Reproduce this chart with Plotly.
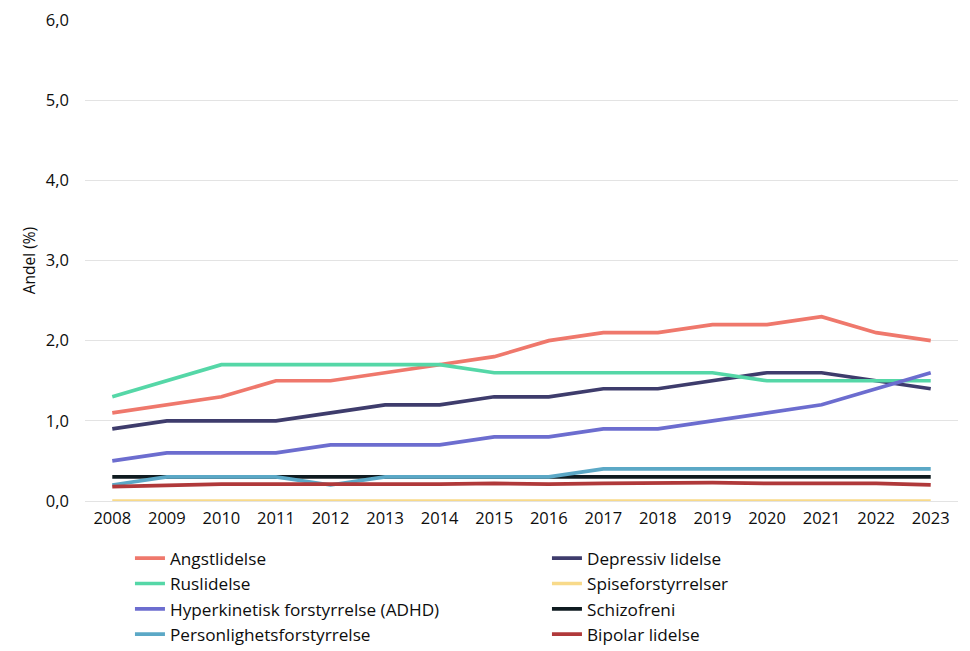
import plotly.graph_objects as go

years = [str(y) for y in range(2008, 2024)]

angst = [1.1, 1.2, 1.3, 1.5, 1.5, 1.6, 1.7, 1.8, 2.0, 2.1, 2.1, 2.2, 2.2, 2.3, 2.1, 2.0]
depressiv = [0.9, 1.0, 1.0, 1.0, 1.1, 1.2, 1.2, 1.3, 1.3, 1.4, 1.4, 1.5, 1.6, 1.6, 1.5, 1.4]
rus = [1.3, 1.5, 1.7, 1.7, 1.7, 1.7, 1.7, 1.6, 1.6, 1.6, 1.6, 1.6, 1.5, 1.5, 1.5, 1.5]
spise = [0.0] * 16
adhd = [0.5, 0.6, 0.6, 0.6, 0.7, 0.7, 0.7, 0.8, 0.8, 0.9, 0.9, 1.0, 1.1, 1.2, 1.4, 1.6]
schizo = [0.3] * 16
person = [0.2, 0.3, 0.3, 0.3, 0.2, 0.3, 0.3, 0.3, 0.3, 0.4, 0.4, 0.4, 0.4, 0.4, 0.4, 0.4]
bipolar = [0.18, 0.2, 0.21, 0.21, 0.21, 0.2, 0.21, 0.22, 0.21, 0.22, 0.23, 0.23, 0.22, 0.22, 0.22, 0.2]

series = [
    ("Angstlidelse", angst, "#EF786C"),
    ("Depressiv lidelse", depressiv, "#3E3C6C"),
    ("Ruslidelse", rus, "#55D7A7"),
    ("Spiseforstyrrelser", spise, "#F8DA8A"),
    ("Hyperkinetisk forstyrrelse (ADHD)", adhd, "#6C6DCF"),
    ("Schizofreni", schizo, "#0F1B20"),
    ("Personlighetsforstyrrelse", person, "#5BA8C6"),
    ("Bipolar lidelse", bipolar, "#B0393A"),
]

fig = go.Figure()
for name, vals, col in series:
    fig.add_trace(go.Scatter(x=years, y=vals, name=name, mode="lines",
                             line=dict(color=col, width=3.7)))

font = "'Open Sans', sans-serif"
fig.update_layout(
    width=970, height=651,
    margin=dict(l=85, r=12, t=20, b=150, autoexpand=False),
    plot_bgcolor="white", paper_bgcolor="white",
    font=dict(family=font, size=15, color="#0d0d0d"),
    separators=",.",
    showlegend=True,
    legend=dict(orientation="h", x=0.0515, y=-0.082, xanchor="left", yanchor="top",
                entrywidth=372, entrywidthmode="pixels", itemwidth=30,
                font=dict(size=17.2, family=font), traceorder="normal"),
    xaxis=dict(type="category", range=[-0.5, 15.5], showgrid=False, showline=False,
               ticks="", tickfont=dict(size=16.5), ticklabelstandoff=5),
    yaxis=dict(range=[0, 6], dtick=1, tickformat=".1f", showgrid=True, gridcolor="#E3E3E3",
               gridwidth=1, zeroline=True, zerolinecolor="#E3E3E3", zerolinewidth=1,
               ticks="", tickfont=dict(size=16.5), ticklabelstandoff=15,
               title=dict(text="Andel (%)", font=dict(size=15.5), standoff=6)),
)

fig.write_html("out.html")
